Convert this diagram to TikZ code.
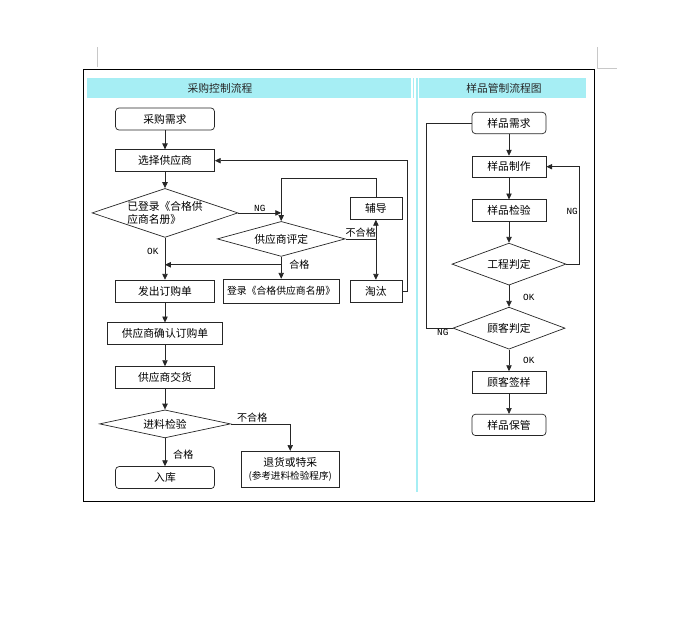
\documentclass[tikz,border=0pt]{standalone}
\usepackage{fontspec}
\setmainfont{Noto Sans CJK SC}
\newfontfamily\tagfont{Liberation Mono}
\usetikzlibrary{arrows.meta,positioning,shapes.geometric}
\definecolor{HeadCyan}{HTML}{A6EEF4}
\definecolor{PageGray}{HTML}{C8C8C8}
\definecolor{Ink}{HTML}{262626}

\begin{document}
\begin{tikzpicture}[x=0.3mm, y=-0.3mm, node distance=6.6mm,
  box/.style={draw=Ink, line width=0.6pt, minimum width=29.7mm, minimum height=6.6mm,
              inner sep=1pt, align=center, font=\fontsize{9.2pt}{11pt}\selectfont},
  rbox/.style={box, rounded corners=3pt},
  box2/.style={box, minimum width=22.2mm, minimum height=6.4mm},
  rbox2/.style={box2, rounded corners=3pt},
  dia/.style={diamond, draw=Ink, line width=0.6pt, inner sep=0pt, align=left,
              font=\fontsize{9.2pt}{11pt}\selectfont},
  title/.style={font=\fontsize{9.2pt}{11pt}\selectfont, text=Ink},
  lab/.style={inner sep=1pt, font=\fontsize{8.6pt}{10pt}\selectfont},
  tag/.style={inner sep=1pt, font=\tagfont\fontsize{8pt}{9pt}\selectfont},
  line/.style={line width=0.6pt, draw=Ink},
  arr/.style={line, -{Triangle[length=5pt, width=4.6pt]}}]
  \useasboundingbox (0,0) rectangle (679,639);
  % page marks and frame
  \draw[PageGray, line width=0.5pt] (97,47) -- (97,67);
  \draw[PageGray, line width=0.5pt] (597,47) -- (597,68) -- (617,68);
  \draw[line width=0.8pt] (83,69) rectangle (594,501);
  % header bars
  \fill[HeadCyan] (87,78) rectangle (411,98);
  \fill[HeadCyan] (419,78) rectangle (586,98);
  \draw[HeadCyan, line width=1pt] (413.5,78) -- (413.5,98);
  \draw[HeadCyan, line width=1.3pt] (417,78) -- (417,492);
  \node[title] (t1) at (220,88) {采购控制流程};
  \node[title] (t2) at (504,88) {样品管制流程图};

  % purchase flow
  \node[rbox] (need) at (165,119) {采购需求};
  \node[box, below=5.7mm of need] (sel) {选择供应商};
  \node[dia, aspect=3, minimum width=43.8mm, minimum height=14.7mm, below=4.8mm of sel] (chk)
       {已登录《合格供\\应商名册》};
  \node[box, below=12.6mm of chk] (issue) {发出订购单};
  \node[box, minimum width=34.5mm, below=6mm of issue] (conf) {供应商确认订购单};
  \node[box, below=6.3mm of conf] (deliver) {供应商交货};
  \node[dia, aspect=4.7, minimum width=39.3mm, minimum height=8.4mm, below=6.2mm of deliver] (inspect) {进料检验};
  \node[rbox, below=8.4mm of inspect] (store) {入库};
  \node[box, minimum width=34.8mm, minimum height=7.2mm, right=2.4mm of issue,
        font=\fontsize{8.4pt}{10pt}\selectfont] (reg) {登录《合格供应商名册》};
  \node[dia, aspect=3.66, minimum width=38.4mm, minimum height=10.5mm, above=of reg] (eval) {供应商评定};
  \node[box, minimum width=15.6mm, right=3mm of reg] (elim) {淘汰};
  \node[box, minimum width=15.6mm, above=18mm of elim] (coach) {辅导};
  \node[box, minimum width=29.4mm, minimum height=10.8mm, below right=8.1mm and 3mm of inspect.east] (back)
       {退货或特采\\{\fontsize{8.2pt}{10pt}\selectfont(参考进料检验程序)}};

  \coordinate (ngjoin) at (chk.east -| eval.north);
  \draw[arr] (need) -- (sel);
  \draw[arr] (sel) -- (chk);
  \draw[arr] (chk) -- node[pos=0.32, left=1.5mm, tag] {OK} (issue);
  \draw[arr] (chk.east) -- node[midway, above, tag] {NG} (ngjoin);
  \draw[arr] (coach.north) -- ++(0,5.7mm) -| (eval.north);
  \draw[line] (eval.east) -- node[midway, above, lab] {不合格} (eval.east -| coach.south) coordinate (fail);
  \draw[arr] (fail) -- (coach.south);
  \draw[arr] (fail) -- (elim.north);
  \draw[line] (eval.south) -- ++(0,-2.4mm) coordinate (pass);
  \coordinate (join) at (pass -| issue.north);
  \draw[arr] (pass) -- node[pos=0, right=2mm, lab] {合格} (reg.north);
  \draw[arr] (pass) -- (join);
  \draw[arr] (elim.east) -- ++(1.5mm,0) |- (sel.east);
  \draw[arr] (issue) -- (conf);
  \draw[arr] (conf) -- (deliver);
  \draw[arr] (deliver) -- (inspect);
  \draw[arr] (inspect) -- node[pos=0.6, right=2mm, lab] {合格} (store);
  \draw[arr] (inspect.east) -| node[pos=0.18, above, lab] {不合格} (back.north);

  % sample flow
  \node[rbox2] (need2) at (509,123) {样品需求};
  \node[box2, below=6.5mm of need2] (make) {样品制作};
  \node[box2, below=6.5mm of make] (test) {样品检验};
  \node[dia, aspect=2.7, minimum width=34.2mm, minimum height=12.6mm, below=6.4mm of test] (eng) {工程判定};
  \node[dia, aspect=2.7, minimum width=33.6mm, minimum height=12.6mm, below=6.4mm of eng] (cust) {顾客判定};
  \node[box2, below=6.5mm of cust] (sign) {顾客签样};
  \node[rbox2, below=6.2mm of sign] (keep) {样品保管};

  \draw[arr] (need2) -- (make);
  \draw[arr] (make) -- (test);
  \draw[arr] (test) -- (eng);
  \draw[arr] (eng) -- node[pos=0.55, right=3.8mm, tag] {OK} (cust);
  \draw[arr] (cust) -- node[pos=0.52, right=3.8mm, tag] {OK} (sign);
  \draw[arr] (sign) -- (keep);
  \draw[arr] (eng.east) -- ++(3.9mm,0) |- node[pos=0.27, left, tag] {NG} (make.east);
  \draw[line] (cust.west) -- node[pos=0.38, below, tag] {NG} ++(-7.8mm,0) |- (need2.west);
\end{tikzpicture}
\end{document}
